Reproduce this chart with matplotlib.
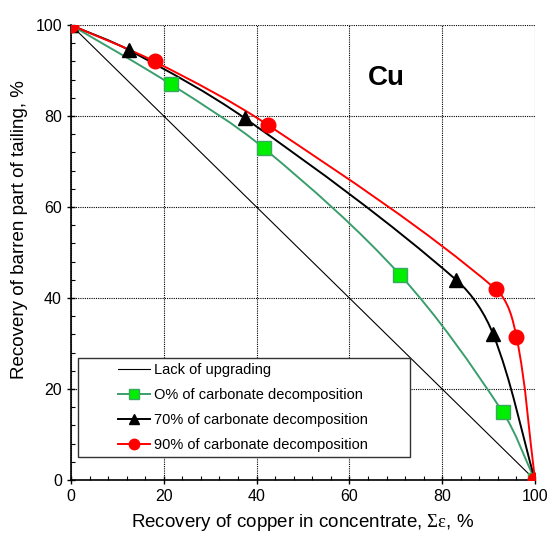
import numpy as np
import matplotlib.pyplot as plt
from matplotlib.path import Path
from matplotlib.patches import PathPatch
from matplotlib.lines import Line2D
from matplotlib.legend_handler import HandlerLine2D

plt.rcParams['font.family'] = ['Liberation Sans', 'DejaVu Sans']
plt.rcParams['mathtext.fontset'] = 'custom'
plt.rcParams['mathtext.rm'] = 'Liberation Serif'

# recovery of copper, recovery of barren part
x0 = [0, 21.5, 41.5, 71, 93, 100]
y0 = [100, 87, 73, 45, 15, 0]
x70 = [0, 12.5, 37.5, 83, 91, 100]
y70 = [100, 94.5, 79.5, 44, 32, 0]
x90 = [0, 18, 42.5, 91.5, 96, 100]
y90 = [100, 92, 78, 42, 31.5, 0]
diag_x = [0, 100]
diag_y = [100, 0]

labels = ['Lack of upgrading', 'O% of carbonate decomposition',
          '70% of carbonate decomposition', '90% of carbonate decomposition']


def smooth_path(xs, ys):
    # smoothed line through the points, chord-length bezier
    p = np.column_stack([xs, ys]).astype(float)
    n = len(p)
    t = np.concatenate([[0], np.cumsum(np.hypot(*np.diff(p, axis=0).T))])
    m = np.zeros_like(p)
    m[0] = (p[1] - p[0]) / (t[1] - t[0])
    m[-1] = (p[-1] - p[-2]) / (t[-1] - t[-2])
    for i in range(1, n - 1):
        m[i] = (p[i + 1] - p[i - 1]) / (t[i + 1] - t[i - 1])
    verts = [p[0]]
    codes = [Path.MOVETO]
    for i in range(n - 1):
        h = t[i + 1] - t[i]
        verts += [p[i] + m[i] * h / 3, p[i + 1] - m[i + 1] * h / 3, p[i + 1]]
        codes += [Path.CURVE4] * 3
    return Path(verts, codes)


fig = plt.figure(figsize=(5.48, 5.34), dpi=100)
ax = fig.add_axes([0.1296, 0.101, 0.8467, 0.852])

green_line = '#3a9e6c'
ax.plot(diag_x, diag_y, color='black', lw=0.8, zorder=3)
for xs, ys, col in [(x0, y0, green_line), (x70, y70, 'black'), (x90, y90, 'red')]:
    ax.add_patch(PathPatch(smooth_path(xs, ys), fill=False, edgecolor=col,
                           lw=1.4, zorder=3))

ax.plot(x0, y0, ls='none', marker='s', ms=9.5, mfc='#00ee00', mec='#3aa860',
        mew=1, zorder=4)
ax.plot(x70, y70, ls='none', marker='^', ms=10, color='black', zorder=4)
ax.plot(x90, y90, ls='none', marker='o', ms=10.5, color='red', zorder=5)

ax.set_xlim(0, 100)
ax.set_ylim(0, 100)
ax.set_xticks(np.arange(0, 101, 20))
ax.set_yticks(np.arange(0, 101, 20))
ax.set_xticks(np.arange(0, 101, 4), minor=True)
ax.set_yticks(np.arange(0, 101, 4), minor=True)
ax.tick_params(which='major', direction='inout', length=6, labelsize=11.5,
               width=1)
ax.tick_params(which='minor', direction='in', length=3, width=0.8)
ax.grid(True, which='major', color='black', ls=(0, (1, 1)), lw=0.8)
ax.spines['top'].set_visible(False)
ax.spines['right'].set_visible(False)
ax.spines['left'].set_linewidth(1.2)
ax.spines['bottom'].set_linewidth(1.2)

ax.set_xlabel(r'Recovery of copper in concentrate, $\mathrm{Σε}$, %',
              fontsize=13.5, labelpad=6)
ax.set_ylabel('Recovery of barren part of tailing, %', fontsize=13.5)
ax.yaxis.set_label_coords(-0.093, 0.55)

ax.text(67.9, 88.4, 'Cu', fontsize=20, fontweight='bold', ha='center',
        va='center')

handles = [
    Line2D([], [], color='black', lw=0.8),
    Line2D([], [], color=green_line, lw=1.4, marker='s', ms=7.5,
           mfc='#00ee00', mec='#3aa860'),
    Line2D([], [], color='black', lw=1.4, marker='^', ms=7.5),
    Line2D([], [], color='red', lw=1.4, marker='o', ms=7.5),
]
hmap = {h: HandlerLine2D(xpad=2.4) for h in handles}
leg = ax.legend(handles, labels, loc='lower left', mode='expand',
                bbox_to_anchor=(0.015, 0.0505, 0.7155, 0.2),
                fontsize=10.5, fancybox=False, framealpha=1,
                edgecolor='#333333', handlelength=4.6, handletextpad=0.25,
                borderpad=0.35, labelspacing=0.75, borderaxespad=0,
                handler_map=hmap)
leg.get_frame().set_linewidth(1)
leg.set_zorder(6)

fig.savefig('out.png', dpi=100)
